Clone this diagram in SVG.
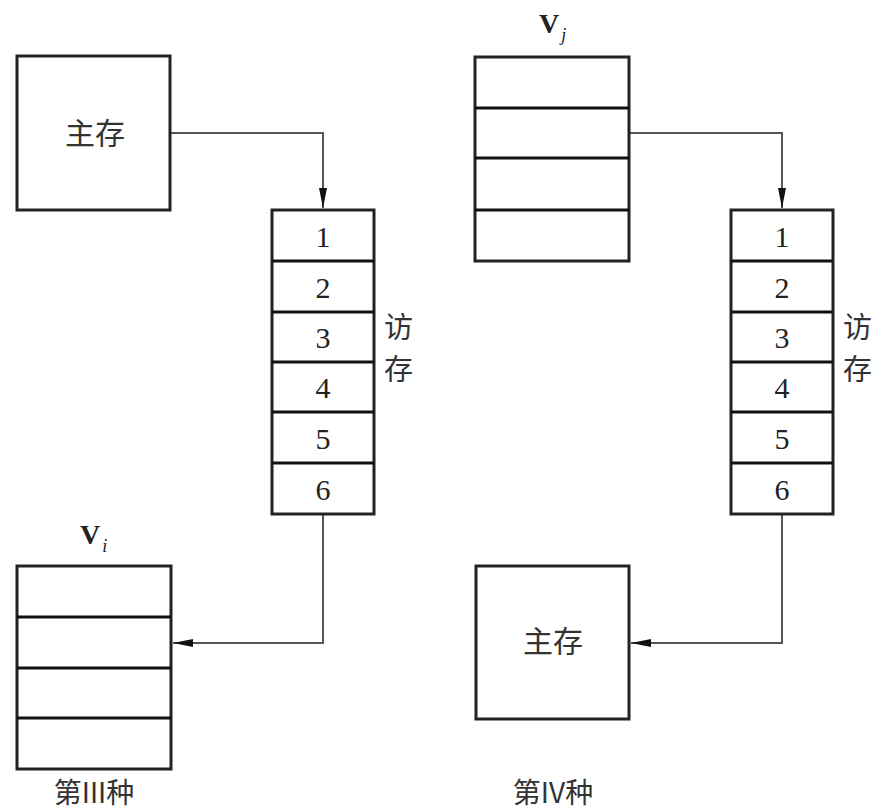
<svg xmlns="http://www.w3.org/2000/svg" width="871" height="810" viewBox="0 0 871 810">
<defs>
<style>
.box{fill:#fff;stroke:#222;stroke-width:3}
.div{stroke:#111;stroke-width:3}
.conn{fill:none;stroke:#555;stroke-width:2}
.cjk{font-family:"Noto Sans CJK SC","Noto Sans",sans-serif;fill:#333}
.num{font-family:"Liberation Serif",serif;font-size:30px;fill:#222;text-anchor:middle}
.lbl{font-family:"Liberation Serif",serif;fill:#222;font-weight:bold}
</style>
<marker id="arr" viewBox="0 0 20 10" refX="20" refY="5" markerWidth="20" markerHeight="10" markerUnits="userSpaceOnUse" orient="auto">
<path d="M0,1 L20,5 L0,9 Z" fill="#111"/>
</marker>
</defs>
<rect width="871" height="810" fill="#fff"/>

<g id="connectors">
<path class="conn" d="M170,133 H323 V208" marker-end="url(#arr)"/>
<path class="conn" d="M323,514 V643 H173" marker-end="url(#arr)"/>
<path class="conn" d="M629,133 H782 V208" marker-end="url(#arr)"/>
<path class="conn" d="M782,514 V643 H631" marker-end="url(#arr)"/>
</g>

<g id="mem-left">
<rect class="box" x="17" y="56" width="153" height="154"/>
<text class="cjk" x="95" y="144" font-size="30" text-anchor="middle">主存</text>
</g>

<g id="stack-left">
<rect class="box" x="272" y="210" width="102" height="304"/>
<line class="div" x1="272" y1="261" x2="374" y2="261"/>
<line class="div" x1="272" y1="312" x2="374" y2="312"/>
<line class="div" x1="272" y1="362" x2="374" y2="362"/>
<line class="div" x1="272" y1="412" x2="374" y2="412"/>
<line class="div" x1="272" y1="463" x2="374" y2="463"/>
<text class="num" x="323" y="247">1</text>
<text class="num" x="323" y="298">2</text>
<text class="num" x="323" y="348">3</text>
<text class="num" x="323" y="398">4</text>
<text class="num" x="323" y="449">5</text>
<text class="num" x="323" y="500">6</text>
<text class="cjk" x="384" y="338" font-size="29">访</text>
<text class="cjk" x="384" y="380" font-size="29">存</text>
</g>

<g id="vi-left">
<text class="lbl" x="80" y="544" font-size="28">V<tspan font-size="18" font-style="italic" font-weight="normal" dx="2" dy="8">i</tspan></text>
<rect class="box" x="17" y="566" width="154" height="203"/>
<line class="div" x1="17" y1="617" x2="171" y2="617"/>
<line class="div" x1="17" y1="668" x2="171" y2="668"/>
<line class="div" x1="17" y1="718" x2="171" y2="718"/>
</g>
<text class="cjk" x="94" y="803" font-size="28" text-anchor="middle">第III种</text>

<g id="vj-right">
<text class="lbl" x="539" y="33" font-size="28">V<tspan font-size="18" font-style="italic" font-weight="normal" dx="2" dy="8">j</tspan></text>
<rect class="box" x="475" y="57" width="154" height="204"/>
<line class="div" x1="475" y1="108" x2="629" y2="108"/>
<line class="div" x1="475" y1="158" x2="629" y2="158"/>
<line class="div" x1="475" y1="210" x2="629" y2="210"/>
</g>

<g id="stack-right">
<rect class="box" x="731" y="210" width="102" height="304"/>
<line class="div" x1="731" y1="261" x2="833" y2="261"/>
<line class="div" x1="731" y1="312" x2="833" y2="312"/>
<line class="div" x1="731" y1="362" x2="833" y2="362"/>
<line class="div" x1="731" y1="412" x2="833" y2="412"/>
<line class="div" x1="731" y1="463" x2="833" y2="463"/>
<text class="num" x="782" y="247">1</text>
<text class="num" x="782" y="298">2</text>
<text class="num" x="782" y="348">3</text>
<text class="num" x="782" y="398">4</text>
<text class="num" x="782" y="449">5</text>
<text class="num" x="782" y="500">6</text>
<text class="cjk" x="843" y="338" font-size="29">访</text>
<text class="cjk" x="843" y="380" font-size="29">存</text>
</g>

<g id="mem-right">
<rect class="box" x="476" y="566" width="153" height="153"/>
<text class="cjk" x="553" y="652" font-size="30" text-anchor="middle">主存</text>
</g>
<text class="cjk" x="553" y="803" font-size="28" text-anchor="middle">第IV种</text>
</svg>
